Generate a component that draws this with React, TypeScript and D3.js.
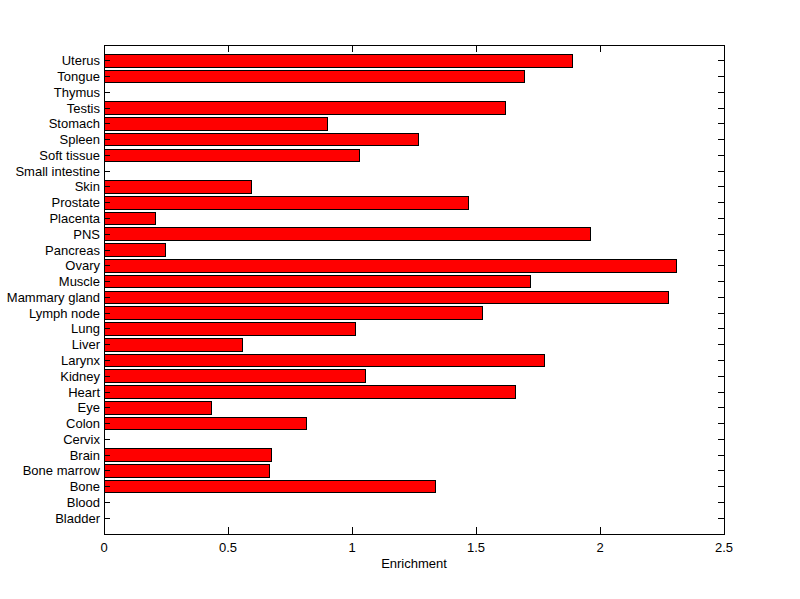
import React, { useEffect } from "react";
import * as d3 from "d3";

const WIDTH = 800;
const HEIGHT = 599;

// bottom to top, as in the picture
const tissues = [
  "Bladder",
  "Blood",
  "Bone",
  "Bone marrow",
  "Brain",
  "Cervix",
  "Colon",
  "Eye",
  "Heart",
  "Kidney",
  "Larynx",
  "Liver",
  "Lung",
  "Lymph node",
  "Mammary gland",
  "Muscle",
  "Ovary",
  "Pancreas",
  "PNS",
  "Placenta",
  "Prostate",
  "Skin",
  "Small intestine",
  "Soft tissue",
  "Spleen",
  "Stomach",
  "Testis",
  "Thymus",
  "Tongue",
  "Uterus",
];

const enrichment = [
  0, 0, 1.335, 0.669, 0.677, 0, 0.815, 0.435, 1.661, 1.056, 1.778, 0.56, 1.016,
  1.528, 2.276, 1.718, 2.308, 0.246, 1.96, 0.206, 1.468, 0.593, 0, 1.032, 1.27,
  0.903, 1.617, 0, 1.694, 1.891,
];

const xTicks = [0, 0.5, 1, 1.5, 2, 2.5];

const margin = { top: 45, right: 76, bottom: 66, left: 104 };
const FONT = "'Liberation Sans', Arial, Helvetica, sans-serif";

const App = () => {
  useEffect(() => {
    document.body.style.margin = "0";
    document.body.style.background = "#ffffff";
  }, []);

  const x0 = margin.left;
  const x1 = WIDTH - margin.right;
  const y0 = margin.top;
  const y1 = HEIGHT - margin.bottom + 1;

  const x = d3.scaleLinear().domain([0, 2.5]).range([x0, x1]);
  // MATLAB style: categories sit at 1..n, axis runs 0..n+1
  const y = d3
    .scaleLinear()
    .domain([0, tissues.length + 1])
    .range([y1, y0]);
  const barH = (y(0) - y(0.8)) as number;

  const tickLen = 7;

  return (
    <svg
      width={WIDTH}
      height={HEIGHT}
      style={{ display: "block", background: "#fff" }}
      fontFamily={FONT}
      fontSize={13}
    >
      <rect x={0} y={0} width={WIDTH} height={HEIGHT} fill="#fff" />
      <g>
        {tissues.map((t, i) =>
          enrichment[i] > 0 ? (
            <rect
              key={t}
              x={x(0)}
              y={y(i + 1) - barH / 2}
              width={x(enrichment[i]) - x(0)}
              height={barH}
              fill="#ff0000"
              stroke="#000"
              strokeWidth={1}
              shapeRendering="crispEdges"
            />
          ) : null
        )}
      </g>
      <g stroke="#000" strokeWidth={1} shapeRendering="crispEdges">
        <rect x={x0} y={y0} width={x1 - x0} height={y1 - y0} fill="none" />
        {xTicks.map(v => (
          <g key={v}>
            <line x1={x(v)} x2={x(v)} y1={y1} y2={y1 - tickLen} />
            <line x1={x(v)} x2={x(v)} y1={y0} y2={y0 + tickLen} />
          </g>
        ))}
        {tissues.map((t, i) => (
          <g key={t}>
            <line x1={x0} x2={x0 + 6} y1={y(i + 1)} y2={y(i + 1)} />
            <line x1={x1} x2={x1 - 6} y1={y(i + 1)} y2={y(i + 1)} />
          </g>
        ))}
      </g>
      <g fill="#000">
        {xTicks.map(v => (
          <text key={v} x={x(v)} y={y1 + 18} textAnchor="middle">
            {String(v)}
          </text>
        ))}
        {tissues.map((t, i) => (
          <text
            key={t}
            x={x0 - 4}
            y={y(i + 1)}
            textAnchor="end"
            dominantBaseline="central"
          >
            {t}
          </text>
        ))}
        <text x={(x0 + x1) / 2} y={y1 + 34} textAnchor="middle">
          Enrichment
        </text>
      </g>
    </svg>
  );
};

export default App;
